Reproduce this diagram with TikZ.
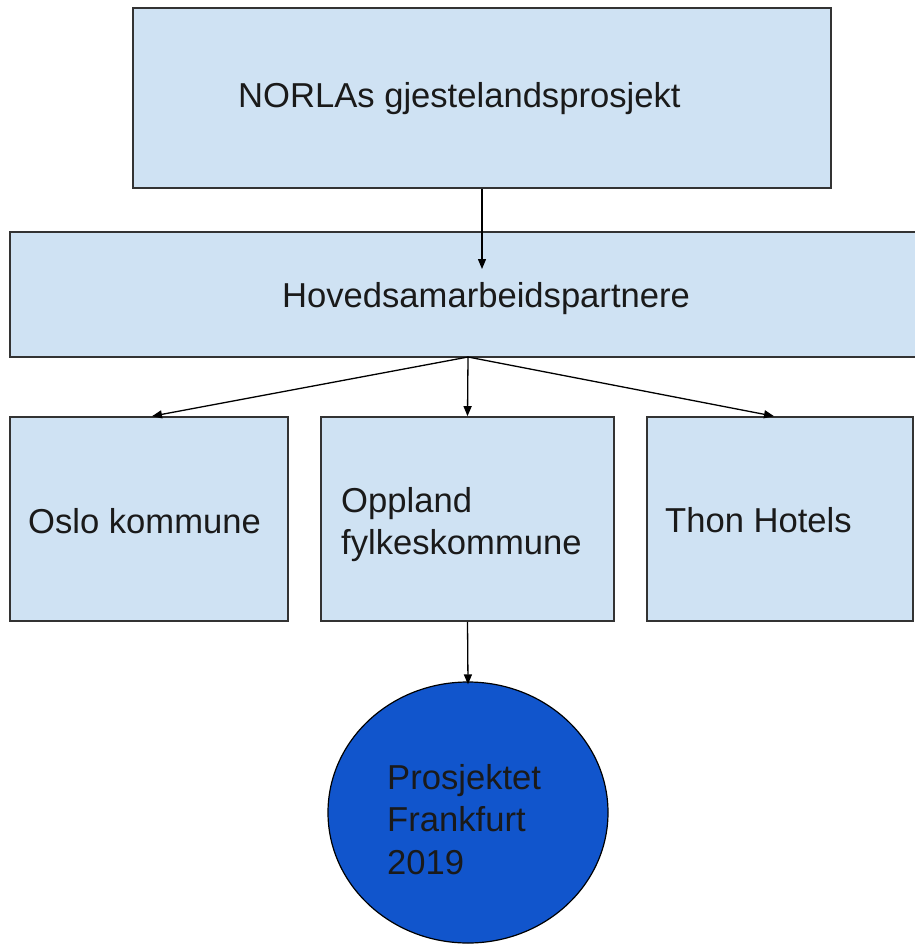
\documentclass[tikz,border=0pt]{standalone}
\usepackage{fontspec}
\setmainfont{Liberation Sans}
\usetikzlibrary{arrows.meta,shapes.geometric}
\definecolor{boxfill}{HTML}{CFE2F3}
\definecolor{roundfill}{HTML}{1155CC}
\definecolor{boxline}{HTML}{333333}
\definecolor{inktext}{HTML}{1A1A1A}
\begin{document}
\begin{tikzpicture}[
	x=1pt, y=-1pt,
	part box/.style={draw=boxline, fill=boxfill, line width=1.6pt, inner sep=0pt},
	goal round/.style={ellipse, draw=black, fill=roundfill, line width=1.2pt, inner sep=0pt,
		minimum width=280pt, minimum height=261pt},
	box text/.style={font=\fontsize{34.6}{42.5}\selectfont, text=inktext, align=left, inner sep=0pt},
	link/.style={-{Triangle[length=10pt,width=8pt]}, line width=1.3pt, draw=black}]

	\useasboundingbox (0,0) rectangle (914,944);

	% boxes
	\node[part box, minimum width=698pt, minimum height=180pt] (norla) at (482,98) {};
	\node[part box, minimum width=912pt, minimum height=125pt] (hoved) at (466,294.5) {};
	\node[part box, minimum width=278pt, minimum height=204pt] (oslo) at (149,519) {};
	\node[part box, minimum width=293pt, minimum height=204pt] (oppland) at (467.5,519) {};
	\node[part box, minimum width=266pt, minimum height=204pt] (thon) at (780,519) {};
	\node[goal round] (frankfurt) at (468,812.5) {};

	% texts
	\node[box text, anchor=base west] (norla text) at (238,108) {NORLAs gjestelandsprosjekt};
	\node[box text, anchor=base west] (hoved text) at (282,307) {Hovedsamarbeidspartnere};
	\node[box text, anchor=base west] (oslo text) at (28,533) {Oslo kommune};
	\node[box text, anchor=north west] (oppland text) at (341,487) {Oppland\\fylkeskommune};
	\node[box text, anchor=base west] (thon text) at (665,532) {Thon Hotels};
	\node[box text, anchor=north west] (frankfurt text) at (387,764) {Prosjektet\\Frankfurt\\2019};

	% connections
	\coordinate (hoved in) at (482,269);
	\coordinate (fan) at (468,357);
	\draw[link] (norla.south) -- (hoved in);
	\draw[link] (fan) -- ([xshift=3pt]oslo.north);
	\draw[link] (fan) -- (oppland.north);
	\draw[link] (fan) -- ([xshift=-6pt]thon.north);
	\draw[link] (oppland.south) -- ([yshift=-3pt]frankfurt.north);
\end{tikzpicture}
\end{document}
